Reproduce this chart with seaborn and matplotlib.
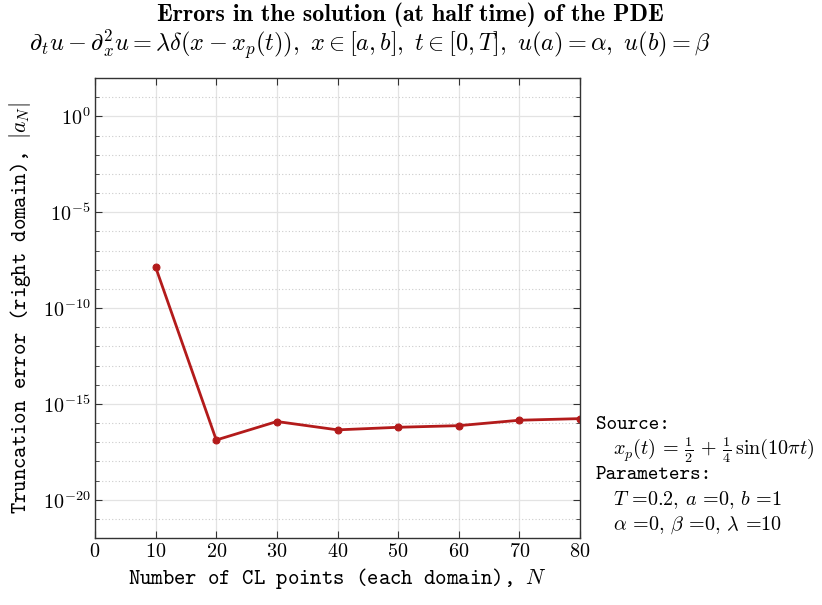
import numpy as np
import pandas as pd
import matplotlib
matplotlib.use("Agg")
import matplotlib.pyplot as plt
import matplotlib.ticker as mticker
import seaborn as sns

# Valeurs
N_points = [10, 20, 30, 40, 50, 60, 70, 80]
erreurs = [1.35e-8, 1.3e-17, 1.2e-16, 4.4e-17, 6.0e-17, 7.3e-17, 1.4e-16, 1.7e-16]
x_ticks = [0, 10, 20, 30, 40, 50, 60, 70, 80]
y_ticks = [1e-20, 1e-15, 1e-10, 1e-5, 1e0]

ROUGE = "#B31B1B"

sns.set_theme(style="ticks")
plt.rcParams["font.family"] = ["cmr10"]
plt.rcParams["mathtext.fontset"] = "cm"
plt.rcParams["axes.formatter.use_mathtext"] = True
plt.rcParams["text.color"] = "black"
plt.rcParams["axes.labelcolor"] = "black"

df = pd.DataFrame({"N": N_points, "err": erreurs})

fig = plt.figure(figsize=(8.22, 6.05), dpi=100)
ax = fig.add_axes([0.1156, 0.1107, 0.5900, 0.7603])

sns.lineplot(data=df, x="N", y="err", ax=ax, color=ROUGE, lw=2,
             marker="o", markersize=5, markeredgecolor=ROUGE)

ax.set_yscale("log")
ax.set_xlim(0, 80)
ax.set_ylim(1e-22, 1e2)
ax.set_xticks(x_ticks)
ax.set_yticks(y_ticks)
ax.set_yticks([10.0 ** k for k in range(-22, 3)], minor=True)
ax.yaxis.set_minor_formatter(mticker.NullFormatter())
ax.xaxis.set_minor_locator(mticker.NullLocator())

ax.grid(True, which="major", color="#e3e3e3", lw=0.9, ls="-")
ax.grid(True, which="minor", axis="y", color="#cccccc", lw=0.8, ls=(0, (1, 2)))
ax.set_axisbelow(True)

ax.tick_params(which="both", direction="in", top=True, right=True,
               colors="#333333", labelcolor="black", labelsize=14.5)
ax.tick_params(which="major", length=5, width=0.8)
ax.tick_params(which="minor", length=3, width=0.6)
for s in ax.spines.values():
    s.set_color("#333333")
    s.set_linewidth(1.0)

ax.set_xlabel("Number of CL points (each domain), $N$", family="cmtt10", fontsize=15.6)
ax.set_ylabel("Truncation error (right domain), $|a_N|$", family="cmtt10", fontsize=15.6,
              labelpad=7)

fig.text(0.499, 0.975, "Errors in the solution (at half time) of the PDE",
         family="cmb10", fontsize=17.3, ha="center", va="center")
fig.text(0.45, 0.925,
         r"$\partial_t u - \partial_x^2 u = \lambda\delta(x-x_p(t)),\ x\in[a,b],\ "
         r"t\in[0,T],\ u(a)=\alpha,\ u(b)=\beta$",
         fontsize=17.5, ha="center", va="center")

# Bloc de texte à droite
x0, x1 = 596 / 822, 613 / 822
lignes = [
    (x0, "Source:", "cmtt10"),
    (x1, r"$x_p(t)\,=\,\frac{1}{2}\,+\,\frac{1}{4}\,\sin(10\pi t)$", "cmr10"),
    (x0, "Parameters:", "cmtt10"),
    (x1, r"$T$ =0.2, $a$ =0, $b$ =1", "cmr10"),
    (x1, r"$\alpha$ =0, $\beta$ =0, $\lambda$ =10", "cmr10"),
]
for i, (xx, txt, fam) in enumerate(lignes):
    yy = 1 - (425 + 25 * i) / 605
    fig.text(xx, yy, txt, family=fam, fontsize=14.5, ha="left", va="center")

plt.savefig("out.png", dpi=100)
plt.close()
